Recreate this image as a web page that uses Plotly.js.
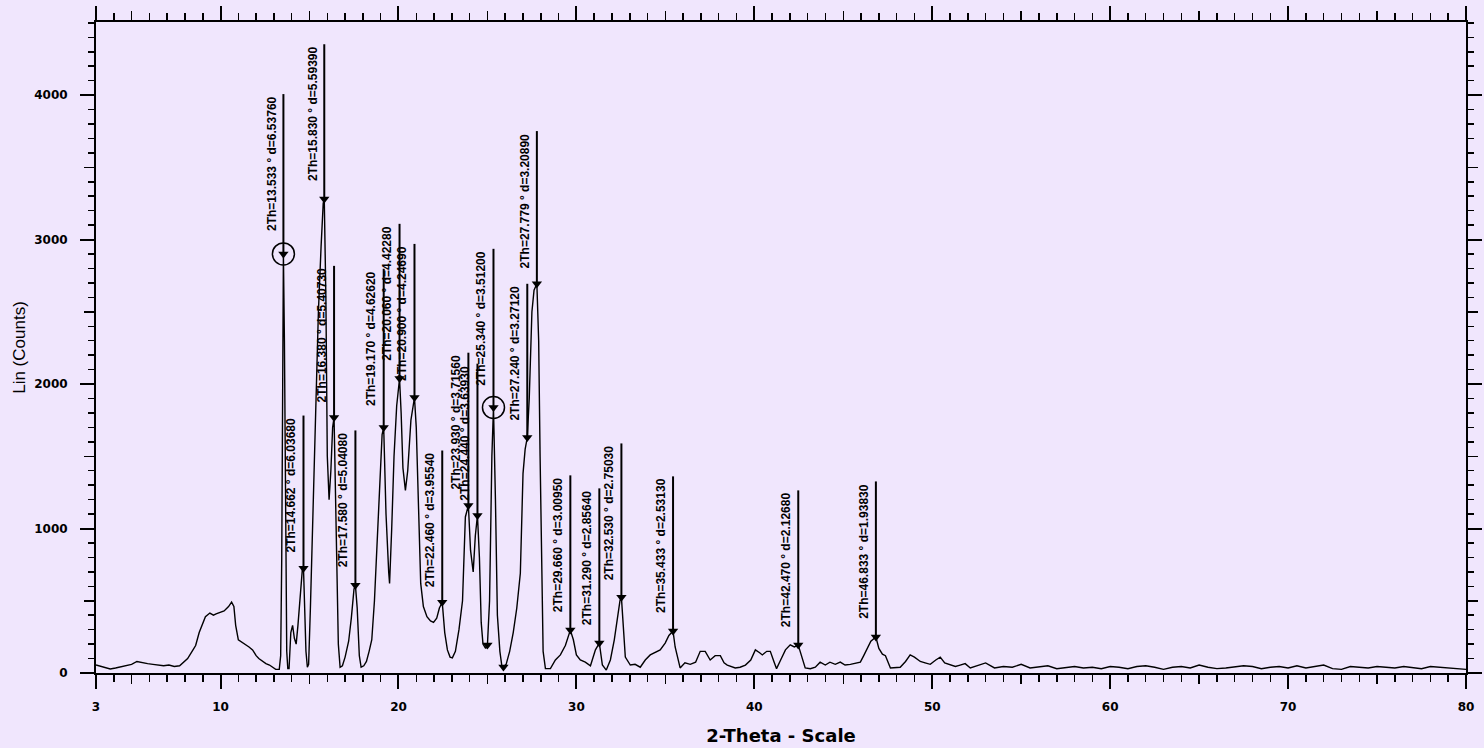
<!DOCTYPE html>
<html><head><meta charset="utf-8">
<script src="https://cdn.plot.ly/plotly-3.0.1.min.js"></script>
<style>html,body{margin:0;padding:0;background:#F0E6FD;} #chart{width:1484px;height:748px;}</style>
</head><body><div id="chart"></div>
<script>
// XRD pattern: 2-Theta (deg) vs Lin (Counts)
const twoTheta = [3.0,3.3,3.6,3.8,4.1,4.4,4.7,5.0,5.3,5.6,5.9,6.2,6.5,6.8,7.1,7.4,7.7,7.9,8.15,8.4,8.6,8.8,8.95,9.15,9.4,9.6,9.75,10.0,10.2,10.45,10.62,10.75,10.85,11.0,11.2,11.4,11.6,11.8,12.0,12.15,12.35,12.55,12.75,12.95,13.1,13.3,
13.38,13.44,13.49,13.533,13.59,13.66,13.72,13.78,13.85,13.95,14.05,14.15,14.25,14.35,14.5,14.6,14.662,14.72,14.8,14.88,14.95,15.05,15.2,15.35,15.5,15.65,15.77,15.83,15.92,16.0,16.1,16.2,16.3,16.38,16.46,16.55,16.62,16.72,16.85,17.0,17.2,17.35,17.5,17.58,17.68,17.8,17.9,18.05,18.2,18.35,18.5,18.65,18.8,18.95,19.08,19.17,19.3,19.45,19.5,19.62,19.75,19.9,20.06,20.15,20.25,20.39,20.52,20.7,20.9,21.0,21.1,21.25,21.4,21.6,21.8,21.97,22.15,22.3,22.46,22.6,22.75,22.9,23.03,23.2,23.4,23.6,23.76,23.93,24.05,24.2,24.32,24.44,24.55,24.65,24.75,24.9,25.0,25.12,25.25,25.34,25.45,25.56,25.7,25.82,25.9,26.05,26.25,26.45,26.65,26.85,27.0,27.12,27.24,27.35,27.5,27.62,27.779,27.88,27.96,28.04,28.13,28.26,28.54,28.82,29.1,29.38,29.55,29.66,29.83,30.0,30.22,30.5,30.79,31.07,31.29,31.46,31.68,31.91,32.13,32.3,32.45,32.53,32.62,32.75,33.03,33.3,33.59,33.87,34.15,34.43,34.71,34.99,35.2,35.433,35.55,35.83,36.1,36.4,36.7,36.96,37.24,37.52,37.8,38.09,38.3,38.48,38.93,39.2,39.5,39.8,40.06,40.3,40.45,40.7,40.9,41.1,41.25,41.46,41.75,42.02,42.25,42.47,42.7,42.86,43.15,43.43,43.7,43.99,44.25,44.55,44.83,45.1,45.4,45.7,45.96,46.15,46.3,46.55,46.833,47.0,47.2,47.37,47.65,47.9,48.2,48.5,48.76,49.0,49.33,49.6,49.89,50.2,50.45,50.7,51.0,51.3,51.57,51.85,52.14,
52.5,53.0,53.5,54.0,54.5,55.0,55.5,56.0,56.5,57.0,57.5,58.0,58.5,59.0,59.5,60.0,60.5,61.0,61.5,62.0,62.5,63.0,63.5,64.0,64.5,65.0,65.5,66.0,66.5,67.0,67.5,68.0,68.5,69.0,69.5,70.0,70.5,71.0,71.5,72.0,72.5,73.0,73.5,74.0,74.5,75.0,75.5,76.0,76.5,77.0,77.5,78.0,78.5,79.0,79.5,80.0];
const counts = [55,45,35,28,35,45,50,60,80,70,65,60,55,50,55,45,50,75,100,150,190,280,330,390,415,400,410,420,430,460,490,460,330,230,215,200,180,160,120,100,80,65,55,40,25,25,
120,800,2600,2901,2300,900,150,30,30,280,330,240,200,330,560,720,725,480,150,40,60,450,1200,1900,2500,2950,3250,3281,2600,1500,1200,1400,1700,1768,1300,600,200,40,50,110,220,380,580,608,450,120,40,50,80,150,230,500,920,1350,1650,1699,1100,700,620,1000,1500,1850,2038,1800,1420,1264,1400,1750,1907,1700,1200,620,460,390,360,350,380,450,490,280,160,110,105,150,300,500,1080,1160,850,700,950,1091,800,350,200,170,193,500,1500,1838,1200,400,150,40,41,60,150,280,450,690,1380,1550,1630,1900,2500,2650,2694,2300,1500,700,150,30,30,90,125,190,260,297,230,125,90,75,50,160,207,55,20,90,230,365,500,525,380,110,55,60,40,90,125,140,160,207,260,290,180,35,70,60,75,150,150,90,120,120,70,55,35,40,55,90,160,140,125,150,150,80,30,85,160,195,180,193,90,35,30,40,75,55,75,60,75,55,60,70,75,120,160,220,249,170,130,120,35,35,40,80,125,110,80,70,60,90,110,70,55,45,55,65,35,
50,70,35,45,40,60,35,45,50,30,40,45,35,40,30,45,40,30,45,50,40,25,40,45,35,55,40,30,35,40,50,45,30,40,45,35,50,35,45,55,30,25,45,40,35,45,40,35,45,40,30,45,40,35,30,25];

// Identified peaks (triangle markers), label line tops and labels
const peakTwoTheta = [13.533,14.662,15.830,16.380,17.580,19.170,20.060,20.900,22.460,23.930,24.440,25.000,25.340,25.900,27.240,27.779,29.660,31.290,32.530,35.433,42.470,46.833];
const peakCounts   = [2901,725,3281,1768,608,1699,2038,1907,490,1160,1091,193,1838,41,1630,2694,297,207,525,290,193,249];
const labelTopCounts = [4007,1782,4352,2818,1679,2798,3109,2970,1540,2217,2141,null,2936,null,2694,3751,1368,1278,1589,1361,1264,1326];
const peakLabels = [
 "2Th=13.533 ° d=6.53760","2Th=14.662 ° d=6.03680","2Th=15.830 ° d=5.59390","2Th=16.380 ° d=5.40730",
 "2Th=17.580 ° d=5.04080","2Th=19.170 ° d=4.62620","2Th=20.060 ° d=4.42280","2Th=20.900 ° d=4.24690",
 "2Th=22.460 ° d=3.95540","2Th=23.930 ° d=3.71560","2Th=24.440 ° d=3.63930","",
 "2Th=25.340 ° d=3.51200","","2Th=27.240 ° d=3.27120","2Th=27.779 ° d=3.20890",
 "2Th=29.660 ° d=3.00950","2Th=31.290 ° d=2.85640","2Th=32.530 ° d=2.75030","2Th=35.433 ° d=2.53130",
 "2Th=42.470 ° d=2.12680","2Th=46.833 ° d=1.93830"];
const circledTwoTheta = [13.533, 25.340];
const circledCounts = [2901, 1838];

const xTickVals = [3,10,20,30,40,50,60,70,80];
const xTickText = ["3","10","20","30","40","50","60","70","80"];
const xMidTicks = [5,15,25,35,45,55,65,75];
const yTickVals = [0,1000,2000,3000,4000];
const yTickText = ["0","1000","2000","3000","4000"];
const yMidTicks = [500,1500,2500,3500];

// marker lines
const lx = [], ly = [];
peakTwoTheta.forEach((p,i)=>{ if(labelTopCounts[i]!==null){ lx.push(p,p,null); ly.push(peakCounts[i],labelTopCounts[i],null);} });

const traces = [
 {x: twoTheta, y: counts, type:'scatter', mode:'lines', line:{color:'#000', width:1.4}, hoverinfo:'skip'},
 {x: lx, y: ly, type:'scatter', mode:'lines', line:{color:'#000', width:2}, hoverinfo:'skip'},
 {x: peakTwoTheta, y: peakCounts, type:'scatter', mode:'markers', marker:{symbol:'triangle-down', size:9, color:'#000'}, hoverinfo:'skip'},
 {x: circledTwoTheta, y: circledCounts, type:'scatter', mode:'markers', marker:{symbol:'circle-open', size:22, color:'#000', line:{width:1.5}}, hoverinfo:'skip'}
];

const annotations = peakTwoTheta.map((p,i)=> labelTopCounts[i]===null ? null : ({
  x: p, y: labelTopCounts[i], xref:'x', yref:'y', text: peakLabels[i], showarrow:false,
  textangle:-90, xanchor:'right', yanchor:'top', xshift:-3,
  font:{family:'Liberation Sans, Arial, sans-serif', size:12, color:'#000', weight:'bold'}
})).filter(a=>a);

const tickFont = {family:'DejaVu Sans, sans-serif', size:12, color:'#000', weight:'bold'};
const layout = {
  width:1484, height:748,
  paper_bgcolor:'#F0E6FD', plot_bgcolor:'#F0E6FD',
  margin:{l:96, r:18, t:22, b:75},
  showlegend:false,
  xaxis:{range:[3,80], showline:true, linewidth:2, linecolor:'#000', mirror:'ticks',
    ticks:'outside', ticklen:14, tickwidth:2, tickcolor:'#000',
    tickmode:'array', tickvals:xTickVals, ticktext:xTickText, tickfont:tickFont, ticklabelstandoff:8,
    minor:{tickmode:'linear', tick0:0, dtick:1, ticks:'outside', ticklen:7, tickwidth:1.5, tickcolor:'#000'},
    showgrid:false, zeroline:false,
    title:{text:'2-Theta - Scale', font:{family:'DejaVu Sans, sans-serif', size:18, color:'#000', weight:'bold'}, standoff:16}},
  xaxis2:{range:[3,80], overlaying:'x', anchor:'y', side:'bottom', mirror:'ticks', showline:false,
    ticks:'outside', ticklen:10, tickwidth:1.5, tickcolor:'#000', tickmode:'array', tickvals:xMidTicks,
    showticklabels:false, showgrid:false, zeroline:false},
  yaxis:{range:[0,4506], showline:true, linewidth:2, linecolor:'#000', mirror:'ticks',
    ticks:'outside', ticklen:14, tickwidth:2, tickcolor:'#000',
    tickmode:'array', tickvals:yTickVals, ticktext:yTickText, tickfont:tickFont, ticklabelstandoff:10,
    minor:{tickmode:'linear', tick0:0, dtick:100, ticks:'outside', ticklen:6, tickwidth:1.5, tickcolor:'#000'},
    showgrid:false, zeroline:false,
    title:{text:'Lin (Counts)', font:{family:'Liberation Sans, Arial, sans-serif', size:17, color:'#000'}, standoff:4}},
  yaxis2:{range:[0,4506], overlaying:'y', anchor:'x', side:'left', mirror:'ticks', showline:false,
    ticks:'outside', ticklen:11, tickwidth:1.5, tickcolor:'#000', tickmode:'array', tickvals:yMidTicks,
    showticklabels:false, showgrid:false, zeroline:false},
  annotations: annotations
};
// dummy trace to activate the overlay tick axes
traces.push({x:[null], y:[null], xaxis:'x2', yaxis:'y2', type:'scatter', mode:'lines', hoverinfo:'skip'});
Plotly.newPlot('chart', traces, layout, {displayModeBar:false, staticPlot:true});
</script>
</body></html>
